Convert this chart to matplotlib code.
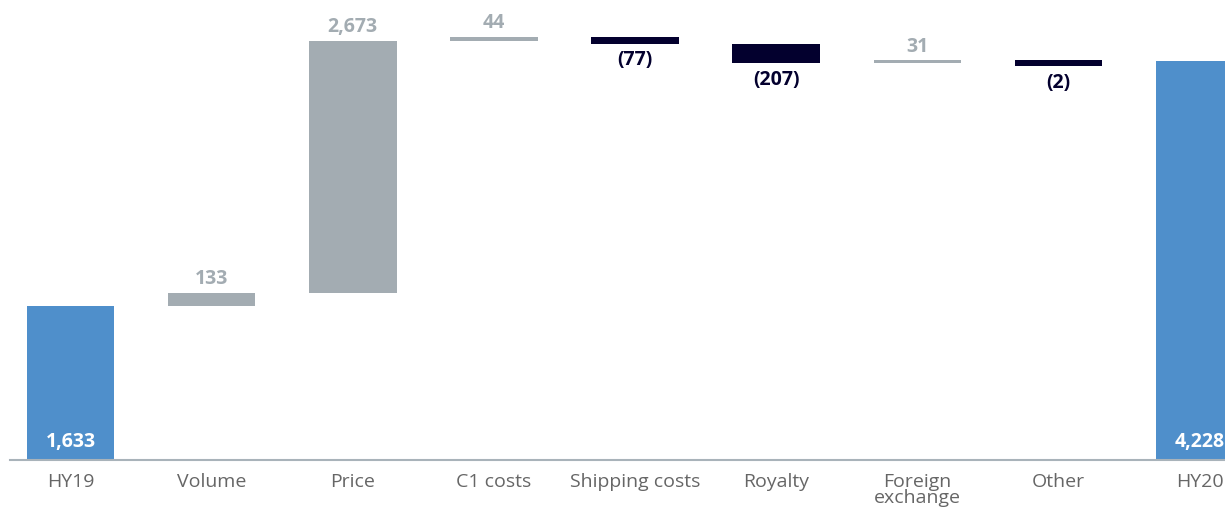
import matplotlib.pyplot as plt
import numpy as np

plt.rcParams['font.family'] = ['Open Sans', 'DejaVu Sans']

categories = ['HY19', 'Volume', 'Price', 'C1 costs', 'Shipping costs',
              'Royalty', 'Foreign\nexchange', 'Other', 'HY20']
values = [1633, 133, 2673, 44, -77, -207, 31, -2, 4228]
labels = ['1,633', '133', '2,673', '44', '(77)', '(207)', '31', '(2)', '4,228']
is_total = [True, False, False, False, False, False, False, False, True]

BLUE = '#4f8fcb'
GREY = '#a3acb2'
NAVY = '#03002e'
MIN_NEG = 60  # minimum drawn thickness of a tiny negative bar

fig = plt.figure(figsize=(12.25, 5.07), dpi=100)
ax = fig.add_axes([0, 0.0927, 1, 0.9073])

x = np.arange(len(categories))
w = 0.62
running = 0
for i, (v, lab, tot) in enumerate(zip(values, labels, is_total)):
    if tot:
        ax.bar(x[i], v, w, bottom=0, color=BLUE)
        ax.text(x[i], 90, lab, ha='center', va='bottom', color='white',
                fontsize=14, fontweight='bold')
        running = v
        continue
    if v >= 0:
        lo, hi = running, running + v
        ax.bar(x[i], hi - lo, w, bottom=lo, color=GREY)
        ax.text(x[i], hi + 40, lab, ha='center', va='bottom', color=GREY,
                fontsize=14, fontweight='bold')
    else:
        hi = running
        lo = running - max(-v, MIN_NEG)
        ax.bar(x[i], hi - lo, w, bottom=lo, color=NAVY)
        ax.text(x[i], lo - 70, lab, ha='center', va='top', color=NAVY,
                fontsize=14, fontweight='bold')
    running += v

ax.set_xlim(-0.5, 8.18)
ax.set_ylim(0, 4870)
ax.axhline(0, xmin=10 / 1225, xmax=1, color='#a9b3ba', lw=1.5, clip_on=False)

for s in ax.spines.values():
    s.set_visible(False)
ax.set_yticks([])
ax.set_xticks(x)
ax.set_xticklabels(categories, fontsize=14, color='#666666', linespacing=0.9)
ax.tick_params(axis='x', length=0, pad=9)

fig.savefig('out.png', dpi=100)
